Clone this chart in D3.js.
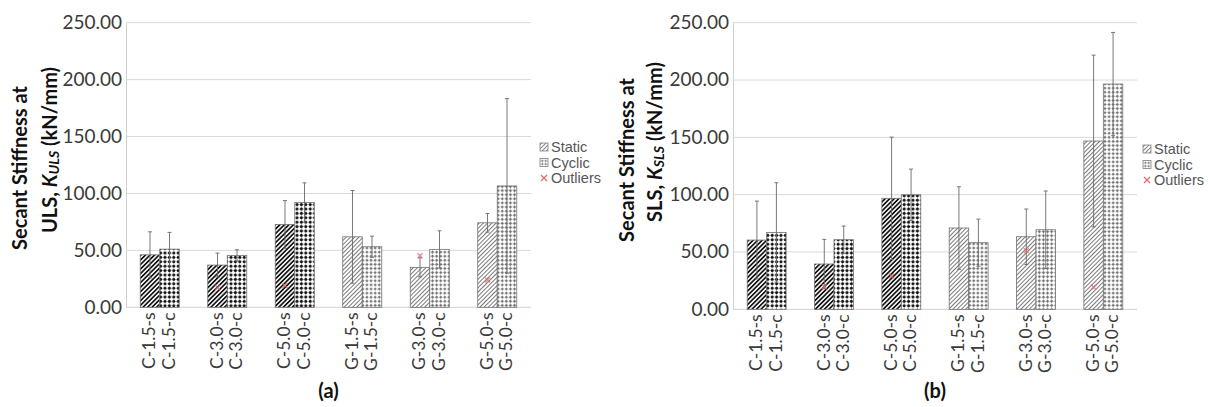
<!DOCTYPE html>
<html>
<head>
<meta charset="utf-8">
<script src="https://cdn.jsdelivr.net/npm/d3@7"></script>
<style>
  body { margin: 0; background: #fff; }
  svg { display: block; }
</style>
</head>
<body>
<svg id="chart" width="1208" height="407"></svg>
<script>
// Specimen groups and the two bars (static / cyclic) drawn in each
const groups = ["C-1.5", "C-3.0", "C-5.0", "G-1.5", "G-3.0", "G-5.0"];
const loadTypes = ["s", "c"];
const barLabels = ["C-1.5-s", "C-1.5-c", "C-3.0-s", "C-3.0-c", "C-5.0-s", "C-5.0-c",
                   "G-1.5-s", "G-1.5-c", "G-3.0-s", "G-3.0-c", "G-5.0-s", "G-5.0-c"];

// Secant stiffness at ULS (kN/mm): mean and +/- error
const ulsMean = [46.1, 51.1, 37.1, 45.6, 72.8, 92.1, 61.9, 53.2, 35.1, 50.9, 74.2, 106.6];
const ulsErr  = [20.2, 14.7, 10.5, 4.9, 21.0, 17.2, 40.7, 9.3, 8.4, 16.3, 8.2, 76.7];
const ulsOutlierLabels = ["C-3.0-s", "C-5.0-s", "G-3.0-s", "G-5.0-s"];
const ulsOutlierValues = [17.5, 19.0, 45.3, 24.0];

// Secant stiffness at SLS (kN/mm): mean and +/- error
const slsMean = [60.4, 67.1, 39.5, 60.7, 96.8, 99.9, 70.9, 58.1, 63.3, 69.4, 146.8, 196.5];
const slsErr  = [34.0, 43.3, 21.5, 11.9, 53.4, 22.4, 36.0, 20.6, 24.2, 33.8, 74.9, 45.0];
const slsOutlierLabels = ["C-3.0-s", "C-5.0-s", "G-3.0-s", "G-5.0-s"];
const slsOutlierValues = [19.7, 29.0, 51.1, 19.2];

const yTicks = [0, 50, 100, 150, 200, 250];
const legendItems = ["Static", "Cyclic", "Outliers"];

const svg = d3.select("#chart");
const defs = svg.append("defs");

// Fill patterns: diagonal hatch for static, dotted grid for cyclic
function hatch(id, color, width, step) {
  const p = defs.append("pattern").attr("id", id)
    .attr("patternUnits", "userSpaceOnUse")
    .attr("width", step).attr("height", step)
    .attr("patternTransform", "rotate(45)");
  p.append("rect").attr("width", step).attr("height", step).attr("fill", "#fff");
  p.append("line").attr("x1", step / 2).attr("x2", step / 2).attr("y1", -1).attr("y2", step + 1)
    .attr("stroke", color).attr("stroke-width", width);
}
function dots(id, color, r, step, grid) {
  const p = defs.append("pattern").attr("id", id)
    .attr("patternUnits", "userSpaceOnUse")
    .attr("width", step).attr("height", step);
  p.append("rect").attr("width", step).attr("height", step).attr("fill", "#fff");
  p.append("path").attr("d", `M0,${step / 2}H${step}M${step / 2},0V${step}`)
    .attr("stroke", grid).attr("stroke-width", 0.6);
  p.append("circle").attr("cx", step / 2).attr("cy", step / 2).attr("r", r).attr("fill", color);
}
hatch("static-C", "#111", 1.7, 3.2);
hatch("static-G", "#7a7a7a", 1.0, 3.0);
dots("cyclic-C", "#111", 1.5, 4.4, "#999");
dots("cyclic-G", "#6e6e6e", 1.2, 4.1, "#bbb");
hatch("static-icon", "#808080", 0.9, 2.9);
dots("cyclic-icon", "#808080", 0.9, 3.2, "#aaa");

function fillFor(label) {
  const mat = label[0];
  const type = label[label.length - 1] === "s" ? "static" : "cyclic";
  return `url(#${type}-${mat})`;
}

function drawPanel(cfg) {
  const g = svg.append("g");
  const y = d3.scaleLinear().domain([0, 250]).range([cfg.bottom, cfg.top]);
  const xGroup = d3.scaleBand().domain(groups).range([cfg.left, cfg.right]).padding(0);
  const xSub = d3.scaleBand().domain(loadTypes).range([0, xGroup.bandwidth()])
    .paddingInner(0).paddingOuter(0.73);
  const barX = label => xGroup(label.slice(0, 5)) + xSub(label.slice(-1));
  const barCenter = label => barX(label) + xSub.bandwidth() / 2;

  // horizontal gridlines
  g.append("g").selectAll("line").data(yTicks.filter(d => d > 0)).join("line")
    .attr("x1", cfg.left).attr("x2", cfg.right)
    .attr("y1", d => y(d)).attr("y2", d => y(d))
    .attr("stroke", "#d9d9d9").attr("stroke-width", 1);

  // y axis
  const yAxis = g.append("g").attr("transform", `translate(${cfg.left},0)`)
    .call(d3.axisLeft(y).tickValues(yTicks).tickFormat(d3.format(".2f")).tickSize(0).tickPadding(4));
  yAxis.select(".domain").attr("stroke", "#d0d0d0");
  yAxis.selectAll("text").attr("font-family", "Lato, 'Open Sans', sans-serif")
    .attr("font-size", 19).attr("fill", "#3a3a3a").attr("dy", "0.3em");

  // baseline
  g.append("line").attr("x1", cfg.left).attr("x2", cfg.right)
    .attr("y1", y(0)).attr("y2", y(0)).attr("stroke", "#d0d0d0");

  // bars
  g.append("g").selectAll("rect").data(barLabels).join("rect")
    .attr("x", d => barX(d)).attr("width", xSub.bandwidth())
    .attr("y", (d, i) => y(cfg.mean[i]))
    .attr("height", (d, i) => y(0) - y(cfg.mean[i]))
    .attr("fill", d => fillFor(d))
    .attr("stroke", "#707070").attr("stroke-width", 0.8);

  // error bars
  const eb = g.append("g").selectAll("g").data(barLabels).join("g");
  eb.append("line")
    .attr("x1", d => barCenter(d)).attr("x2", d => barCenter(d))
    .attr("y1", (d, i) => y(Math.max(0, cfg.mean[i] - cfg.err[i])))
    .attr("y2", (d, i) => y(cfg.mean[i] + cfg.err[i]))
    .attr("stroke", "#6a6a6a").attr("stroke-width", 0.9);
  eb.append("line")
    .attr("x1", d => barCenter(d) - 2).attr("x2", d => barCenter(d) + 2)
    .attr("y1", (d, i) => y(cfg.mean[i] + cfg.err[i]))
    .attr("y2", (d, i) => y(cfg.mean[i] + cfg.err[i]))
    .attr("stroke", "#6a6a6a").attr("stroke-width", 0.9);
  eb.append("line")
    .attr("x1", d => barCenter(d) - 2).attr("x2", d => barCenter(d) + 2)
    .attr("y1", (d, i) => y(Math.max(0, cfg.mean[i] - cfg.err[i])))
    .attr("y2", (d, i) => y(Math.max(0, cfg.mean[i] - cfg.err[i])))
    .attr("stroke", "#6a6a6a").attr("stroke-width", 0.9);

  // outliers
  g.append("g").selectAll("path").data(cfg.outLabels).join("path")
    .attr("transform", (d, i) => `translate(${barCenter(d)},${y(cfg.outValues[i])})`)
    .attr("d", "M-2.5,-2.5L2.5,2.5M-2.5,2.5L2.5,-2.5")
    .attr("stroke", "#e06a6a").attr("stroke-width", 1.4).attr("opacity", 0.75);

  // category labels, rotated
  g.append("g").selectAll("text").data(barLabels).join("text")
    .attr("transform", d => `translate(${barCenter(d) - 1},${y(0) + 5}) rotate(-90)`)
    .attr("text-anchor", "end").attr("dy", "0.36em")
    .attr("font-family", "Lato, 'Open Sans', sans-serif").attr("font-size", 17.5)
    .attr("fill", "#3a3a3a").text(d => d);

  // y-axis title, two lines
  const titleFont = "Lato, 'Open Sans', sans-serif";
  g.append("text")
    .attr("transform", `translate(${cfg.left - cfg.title1Off},${cfg.title1Y}) rotate(-90)`)
    .attr("text-anchor", "middle").attr("font-family", titleFont)
    .attr("font-weight", "bold").attr("font-size", 20).attr("fill", "#111")
    .text("Secant Stiffness at");
  const t2 = g.append("text")
    .attr("transform", `translate(${cfg.left - cfg.title2Off},${cfg.title2Y}) rotate(-90)`)
    .attr("text-anchor", "middle").attr("font-family", titleFont)
    .attr("font-weight", "bold").attr("font-size", 20).attr("fill", "#111");
  t2.append("tspan").text(cfg.limit + ", ");
  t2.append("tspan").attr("font-style", "italic").text("K");
  t2.append("tspan").attr("font-style", "italic").attr("font-size", 14).attr("dy", 2).text(cfg.limit);
  t2.append("tspan").attr("dy", -2).text(" (kN/mm)");

  // panel label
  g.append("text").attr("x", (cfg.left + cfg.right) / 2).attr("y", 398)
    .attr("text-anchor", "middle").attr("font-family", titleFont)
    .attr("font-weight", "bold").attr("font-size", 20).attr("fill", "#111")
    .text(cfg.panel);

  // legend
  const lg = g.append("g").selectAll("g").data(legendItems).join("g")
    .attr("transform", (d, i) => `translate(${cfg.legendX},${cfg.legendY + i * 15.5})`);
  lg.filter(d => d !== "Outliers").append("rect")
    .attr("x", -4).attr("y", -4).attr("width", 8).attr("height", 8)
    .attr("fill", d => d === "Static" ? "url(#static-icon)" : "url(#cyclic-icon)")
    .attr("stroke", "#808080").attr("stroke-width", 0.8);
  lg.filter(d => d === "Outliers").append("path")
    .attr("d", "M-3,-3L3,3M-3,3L3,-3")
    .attr("stroke", "#e06a6a").attr("stroke-width", 1.3);
  lg.append("text").attr("x", 7).attr("dy", "0.35em")
    .attr("font-family", "'Liberation Sans', Arial, sans-serif").attr("font-size", 14.5)
    .attr("fill", "#555").text(d => d);
}

drawPanel({
  left: 126, right: 531, top: 22.7, bottom: 307.3,
  mean: ulsMean, err: ulsErr, outLabels: ulsOutlierLabels, outValues: ulsOutlierValues,
  limit: "ULS", panel: "(a)",
  title1Off: 99, title1Y: 168, title2Off: 69, title2Y: 150,
  legendX: 544, legendY: 147
});

drawPanel({
  left: 733, right: 1137, top: 22.7, bottom: 309.3,
  mean: slsMean, err: slsErr, outLabels: slsOutlierLabels, outValues: slsOutlierValues,
  limit: "SLS", panel: "(b)",
  title1Off: 99, title1Y: 160, title2Off: 71, title2Y: 142,
  legendX: 1147, legendY: 149
});
</script>
</body>
</html>
